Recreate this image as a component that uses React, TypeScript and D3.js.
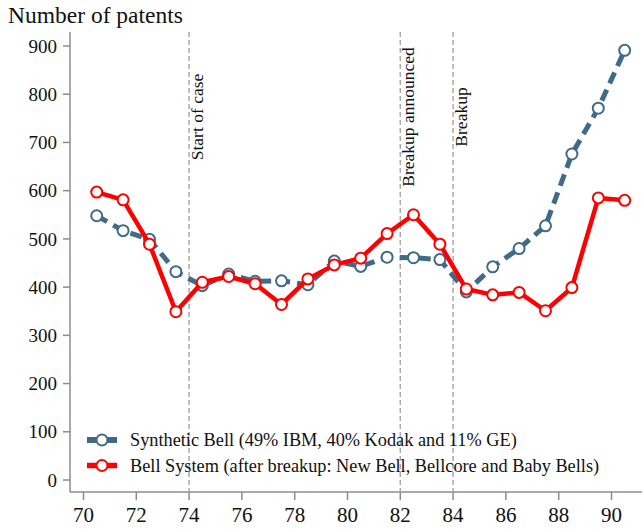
import React from 'react';
import * as d3 from 'd3';

// half-year positions of the yearly observations
const years = [70.5, 71.5, 72.5, 73.5, 74.5, 75.5, 76.5, 77.5, 78.5, 79.5, 80.5,
  81.5, 82.5, 83.5, 84.5, 85.5, 86.5, 87.5, 88.5, 89.5, 90.5];
const synthetic = [548, 517, 499, 432, 403, 427, 412, 413, 405, 454, 443,
  462, 461, 457, 390, 442, 480, 527, 676, 771, 891];
const bell = [597, 581, 489, 349, 410, 422, 407, 364, 417, 446, 460,
  511, 550, 489, 396, 384, 389, 351, 399, 585, 580];
const yTicks = [0, 100, 200, 300, 400, 500, 600, 700, 800, 900];
const xTicks = [70, 72, 74, 76, 78, 80, 82, 84, 86, 88, 90];
const events = [
  { year: 74, label: 'Start of case' },
  { year: 82, label: 'Breakup announced' },
  { year: 84, label: 'Breakup' },
];
const legendLabels = [
  'Synthetic Bell (49% IBM, 40% Kodak and 11% GE)',
  'Bell System (after breakup: New Bell, Bellcore and Baby Bells)',
];

const W = 642;
const H = 531;
const left = 70;
const bottom = 492;
const top = 32;
const font = '"Liberation Serif", "DejaVu Serif", serif';
const blue = '#406a88';
const red = '#ff0000';

export default function App() {
  const x = d3.scaleLinear().domain([70, 90]).range([83.5, 611.5]);
  const y = d3.scaleLinear().domain([0, 900]).range([480, 46]);

  const line = d3.line<number>()
    .x((d, i) => x(years[i]))
    .y((d) => y(d));

  const series = [
    { vals: synthetic, color: blue, dash: '12 7', width: 5 },
    { vals: bell, color: red, dash: undefined, width: 4.5 },
  ];

  return (
    <svg width={W} height={H} style={{ position: 'absolute', left: 0, top: 0, background: '#fff' }}>
      <text x={8} y={23} fontFamily={font} fontSize={23.5} fill="#111">Number of patents</text>

      {/* axes */}
      <line x1={left} x2={left} y1={top} y2={bottom} stroke="#8c8c8c" strokeWidth={1.5} />
      <line x1={left} x2={W} y1={bottom} y2={bottom} stroke="#8c8c8c" strokeWidth={1.5} />
      {yTicks.map((t) => (
        <g key={t}>
          <line x1={left - 7} x2={left} y1={y(t)} y2={y(t)} stroke="#8c8c8c" strokeWidth={1.5} />
          <text x={left - 13} y={y(t)} dy="0.35em" textAnchor="end" fontFamily={font} fontSize={19} fill="#111">{t}</text>
        </g>
      ))}
      {xTicks.map((t) => (
        <g key={t}>
          <line x1={x(t)} x2={x(t)} y1={bottom} y2={bottom + 8} stroke="#8c8c8c" strokeWidth={1.5} />
          <text x={x(t)} y={bottom + 30} textAnchor="middle" fontFamily={font} fontSize={21} fill="#111">{t}</text>
        </g>
      ))}

      {/* event markers */}
      {events.map((e) => (
        <g key={e.label}>
          <line x1={x(e.year)} x2={x(e.year)} y1={top} y2={bottom} stroke="#aaaaaa" strokeWidth={1.5} strokeDasharray="5 3" />
          <text transform={`translate(${x(e.year) + 14},117) rotate(-90)`} textAnchor="middle"
            fontFamily={font} fontSize={17.5} fill="#111">{e.label}</text>
        </g>
      ))}

      {/* series */}
      {series.map((s, si) => (
        <g key={si}>
          <path d={line(s.vals) || ''} fill="none" stroke={s.color} strokeWidth={s.width}
            strokeDasharray={s.dash} strokeLinejoin="round" />
          {s.vals.map((v, i) => (
            <circle key={i} cx={x(years[i])} cy={y(v)} r={5.5} fill="#fff" stroke={s.color} strokeWidth={2} />
          ))}
        </g>
      ))}

      {/* legend */}
      {legendLabels.map((lab, i) => {
        const ly = 440 + i * 25.5;
        const s = series[i];
        return (
          <g key={lab}>
            <line x1={87} x2={117} y1={ly} y2={ly} stroke={s.color} strokeWidth={s.width + 1} />
            <circle cx={102} cy={ly} r={5.5} fill="#fff" stroke={s.color} strokeWidth={2} />
            <text x={130} y={ly} dy="0.35em" fontFamily={font} fontSize={18.3} fill="#111">{lab}</text>
          </g>
        );
      })}
    </svg>
  );
}
